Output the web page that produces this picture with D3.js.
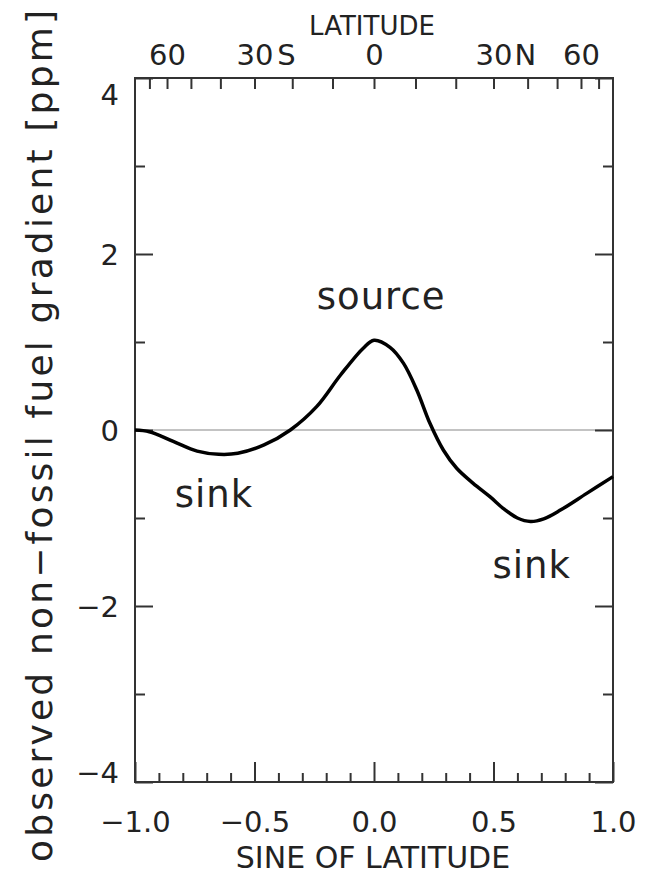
<!DOCTYPE html>
<html>
<head>
<meta charset="utf-8">
<script src="https://cdn.jsdelivr.net/npm/d3@7"></script>
<style>
  body { margin: 0; background: #fff; }
  svg text { font-family: "DejaVu Sans", sans-serif; fill: #222; }
  .axis path { display: none; }
  .axis line { stroke: #333; stroke-width: 2; }
</style>
</head>
<body>
<svg id="chart" width="646" height="874"></svg>
<script>
// sine of latitude vs observed non-fossil fuel gradient (ppm)
var sine = [-1.0, -0.94, -0.84, -0.74, -0.65, -0.57, -0.46, -0.35, -0.24, -0.14, -0.045, 0.0, 0.067,
            0.123, 0.179, 0.234, 0.29, 0.346, 0.415, 0.485, 0.545, 0.6, 0.655, 0.71, 0.78, 0.89, 1.0];
var gradient = [0.0, -0.02, -0.13, -0.24, -0.276, -0.265, -0.17, 0.0, 0.265, 0.625, 0.93, 1.02, 0.94,
                0.76, 0.455, 0.076, -0.227, -0.435, -0.606, -0.758, -0.9, -1.0, -1.04, -1.01, -0.91, -0.72, -0.53];

var yMajor = [-4, -2, 0, 2, 4],
    yMinor = [-3, -1, 1, 3],
    xLabels = [-1.0, -0.5, 0.0, 0.5, 1.0],
    latTicks = [-70, -60, -50, -40, -30, -20, -10, 0, 10, 20, 30, 40, 50, 60, 70],
    latLabels = [-60, -30, 0, 30, 60];

var annotations = [
    { text: "source", s: 0.03, v: 1.38 },
    { text: "sink", s: -0.67, v: -0.88 },
    { text: "sink", s: 0.66, v: -1.68 }
];

var svg = d3.select("#chart");
svg.append("rect").attr("width", 646).attr("height", 874).attr("fill", "#fff");

var p_left = 135, p_right = 613, p_top = 78, p_bottom = 782;
var x = d3.scaleLinear().domain([-1, 1]).range([p_left, p_right]);
var y = d3.scaleLinear().domain([-4, 4]).range([p_bottom, p_top]);
var rad = Math.PI / 180;

// zero line
svg.append("line")
    .attr("x1", x(-1)).attr("x2", x(1))
    .attr("y1", y(0)).attr("y2", y(0))
    .attr("stroke", "#888").attr("stroke-width", 1.2);

// left axis
svg.append("g").attr("class", "axis").attr("transform", `translate(${p_left},0)`)
    .call(d3.axisLeft(y).tickValues(yMajor).tickSize(-18).tickPadding(16).tickFormat(d3.format("d")))
    .call(function (g) {
        g.selectAll("text").attr("font-size", 29).attr("dy", function (d) {
            return d === 4 ? "0.9em" : (d === -4 ? "0em" : "0.36em");
        });
    });
svg.append("g").attr("class", "axis").attr("transform", `translate(${p_left},0)`)
    .call(d3.axisLeft(y).tickValues(yMinor).tickSize(-10).tickFormat(""));

// right axis
svg.append("g").attr("class", "axis").attr("transform", `translate(${p_right},0)`)
    .call(d3.axisRight(y).tickValues(yMajor).tickSize(-18).tickFormat(""));
svg.append("g").attr("class", "axis").attr("transform", `translate(${p_right},0)`)
    .call(d3.axisRight(y).tickValues(yMinor).tickSize(-10).tickFormat(""));

// bottom axis
var xMinor = x.ticks(20).filter(function (d) { return Math.abs(d * 2 - Math.round(d * 2)) > 1e-6; });
svg.append("g").attr("class", "axis").attr("transform", `translate(0,${p_bottom})`)
    .call(d3.axisBottom(x).tickValues(xLabels).tickSize(-20).tickPadding(29).tickFormat(d3.format(".1f")))
    .call(function (g) { g.selectAll("text").attr("font-size", 29); });
svg.append("g").attr("class", "axis").attr("transform", `translate(0,${p_bottom})`)
    .call(d3.axisBottom(x).tickValues(xMinor).tickSize(-9).tickFormat(""));

// top axis: latitude
svg.append("g").attr("class", "axis").attr("transform", `translate(0,${p_top})`)
    .call(d3.axisTop(x).tickValues(latTicks.map(function (d) { return Math.sin(d * rad); })).tickSize(-11).tickFormat(""));
var topAxis = svg.append("g").attr("class", "axis").attr("transform", `translate(0,${p_top})`)
    .call(d3.axisTop(x).tickValues(latLabels.map(function (d) { return Math.sin(d * rad); }))
        .tickSize(0).tickPadding(13)
        .tickFormat(function (d) { return Math.round(Math.abs(Math.asin(d) / rad)); }));
topAxis.selectAll("text").attr("font-size", 29).attr("dy", "0em");
topAxis.selectAll(".tick").each(function (d) {
    var lat = Math.round(Math.asin(d) / rad);
    if (Math.abs(lat) !== 30) return;
    var t = d3.select(this).select("text");
    var w = t.node().getComputedTextLength();
    d3.select(this).append("text")
        .attr("x", w / 2 + 13).attr("y", -13)
        .attr("font-size", 29).attr("fill", "#222")
        .text(lat < 0 ? "S" : "N");
});

// frame
svg.append("rect")
    .attr("x", p_left).attr("y", p_top)
    .attr("width", p_right - p_left).attr("height", p_bottom - p_top)
    .attr("fill", "none").attr("stroke", "#333").attr("stroke-width", 2);

// curve
var line = d3.line()
    .x(function (d) { return x(d[0]); })
    .y(function (d) { return y(d[1]); })
    .curve(d3.curveCatmullRom.alpha(0.5));
svg.append("path")
    .datum(d3.zip(sine, gradient))
    .attr("d", line)
    .attr("fill", "none").attr("stroke", "#000").attr("stroke-width", 3.5)
    .attr("stroke-linejoin", "round");

// annotations
svg.selectAll(".note").data(annotations).enter().append("text")
    .attr("class", "note")
    .attr("x", function (d) { return x(d.s); })
    .attr("y", function (d) { return y(d.v); })
    .attr("text-anchor", "middle")
    .attr("font-size", 37).attr("letter-spacing", 1)
    .text(function (d) { return d.text; });

// titles
svg.append("text").attr("x", 372).attr("y", 35).attr("text-anchor", "middle")
    .attr("font-size", 26).text("LATITUDE");
svg.append("text").attr("x", 373).attr("y", 868).attr("text-anchor", "middle")
    .attr("font-size", 30).text("SINE OF LATITUDE");
svg.append("text")
    .attr("transform", "translate(52,436)rotate(-90)")
    .attr("text-anchor", "middle")
    .attr("font-size", 36)
    .attr("textLength", 852).attr("lengthAdjust", "spacing")
    .text("observed non\u2212fossil fuel gradient [ppm]");
</script>
</body>
</html>
